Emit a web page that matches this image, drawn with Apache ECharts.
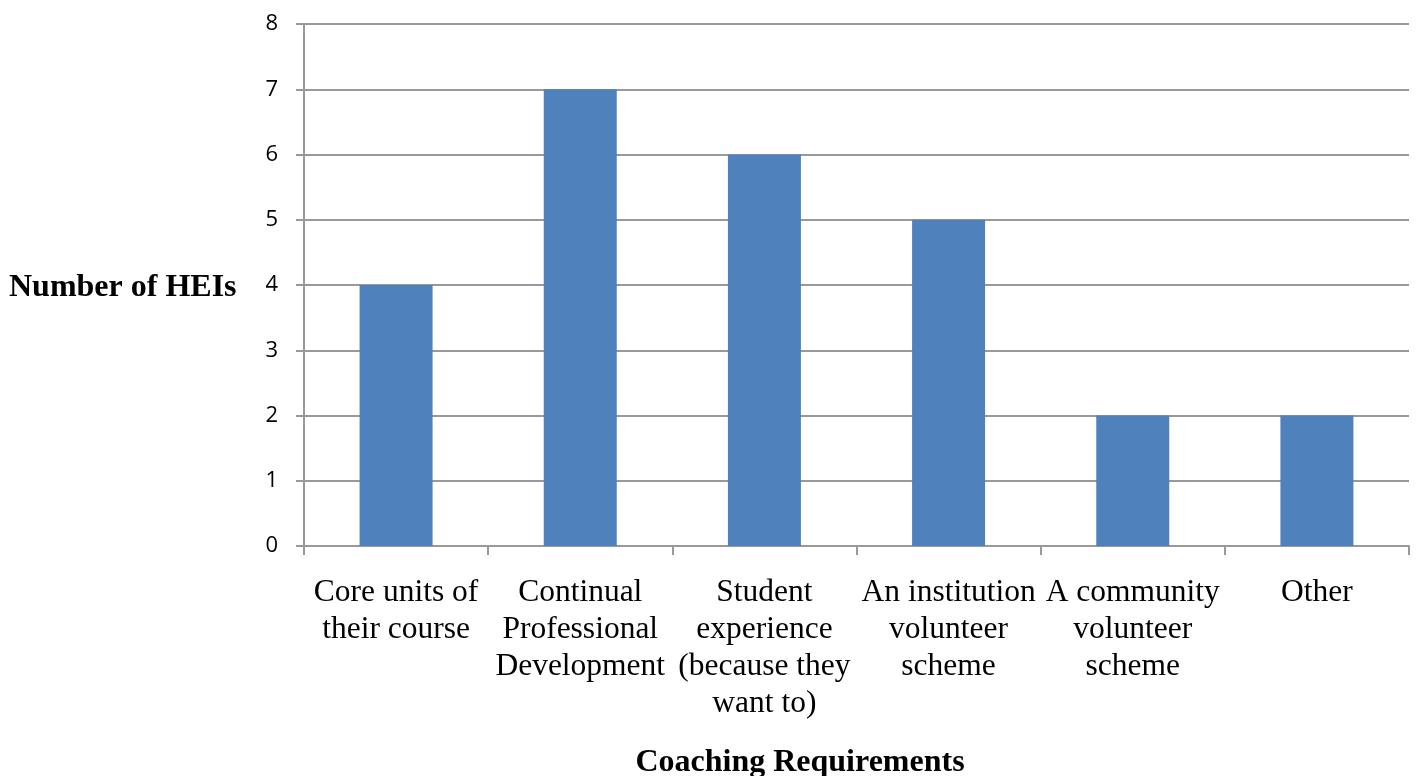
<!DOCTYPE html>
<html>
<head>
<meta charset="utf-8">
<title>Coaching Requirements</title>
<script src="https://cdn.jsdelivr.net/npm/echarts@6/dist/echarts.min.js"></script>
<style>
  html, body { margin: 0; padding: 0; background: #ffffff; }
  #chart { width: 1416px; height: 776px; }
</style>
</head>
<body>
<div id="chart"></div>
<script>
// Where HEIs place student coaching
const categories = [
  'Core units of\ntheir course',
  'Continual\nProfessional\nDevelopment',
  'Student\nexperience\n(because they\nwant to)',
  'An institution\nvolunteer\nscheme',
  'A community\nvolunteer\nscheme',
  'Other'
];
const heiCounts = [4, 7, 6, 5, 2, 2];
const yTicks = { min: 0, max: 8, interval: 1 };

const serif = '"Liberation Serif", "Times New Roman", serif';
const gridGray = '#999999';

const chart = echarts.init(document.getElementById('chart'), null, { renderer: 'canvas' });

chart.setOption({
  backgroundColor: '#ffffff',
  animation: false,
  grid: { left: 304, right: 7, top: 24, bottom: 230, containLabel: false },
  xAxis: {
    type: 'category',
    data: categories,
    boundaryGap: true,
    axisLine: { show: true, lineStyle: { color: gridGray, width: 2 } },
    axisTick: { show: true, alignWithLabel: false, length: 9, lineStyle: { color: gridGray, width: 2 } },
    axisLabel: {
      interval: 0,
      margin: 28,
      color: '#000000',
      fontFamily: serif,
      fontSize: 31.5,
      lineHeight: 37,
      align: 'center',
      verticalAlign: 'top'
    },
    splitLine: { show: false }
  },
  yAxis: {
    type: 'value',
    min: yTicks.min,
    max: yTicks.max,
    interval: yTicks.interval,
    axisLine: { show: true, lineStyle: { color: gridGray, width: 2 } },
    axisTick: { show: true, length: 8, lineStyle: { color: gridGray, width: 2 } },
    axisLabel: {
      margin: 26,
      color: '#000000',
      fontFamily: '"Open Sans", "Noto Sans", sans-serif',
      fontSize: 22
    },
    splitLine: { show: true, lineStyle: { color: gridGray, width: 2 } }
  },
  series: [{
    type: 'bar',
    data: heiCounts,
    barWidth: 73,
    itemStyle: { color: '#4F81BD' }
  }],
  graphic: [
    {
      type: 'text',
      left: 9,
      top: 272,
      style: {
        text: 'Number of HEIs',
        font: 'bold 32px ' + serif,
        fill: '#000000'
      }
    },
    {
      type: 'text',
      x: 800,
      y: 763,
      style: {
        text: 'Coaching Requirements',
        font: 'bold 32px ' + serif,
        fill: '#000000',
        align: 'center',
        verticalAlign: 'middle'
      }
    }
  ]
});
</script>
</body>
</html>
